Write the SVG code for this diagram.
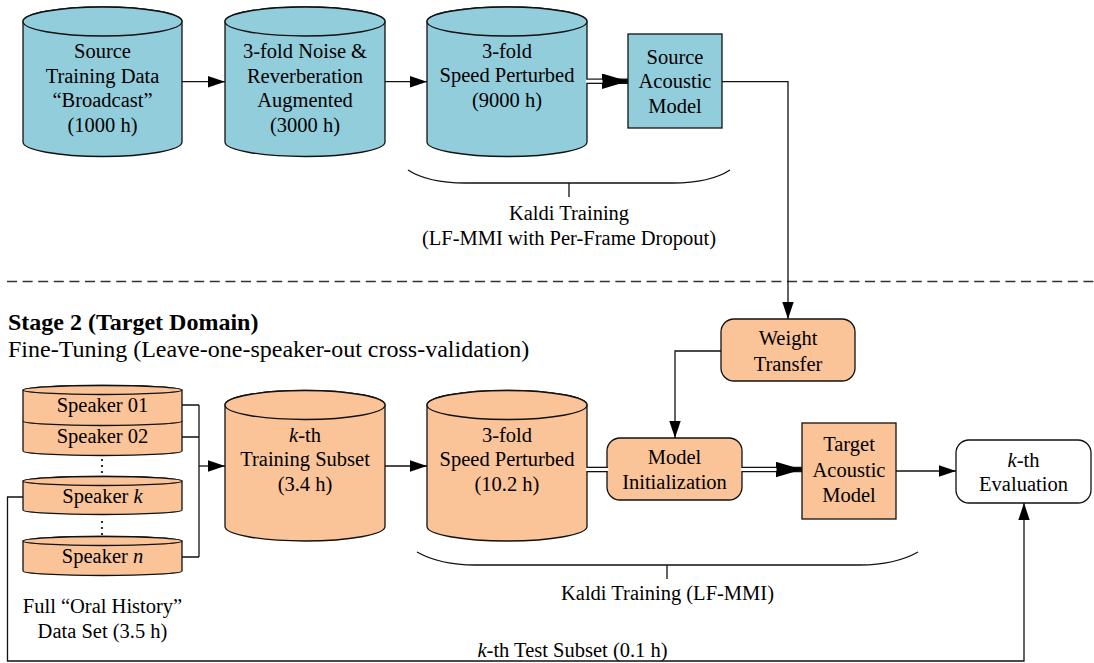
<svg xmlns="http://www.w3.org/2000/svg" width="1094" height="663" viewBox="0 0 1094 663">
  <style>
    text { font-family: "Liberation Serif", "Times New Roman", serif; font-size: 20.5px; fill: #000; }
    .c { text-anchor: middle; }
    .it { font-style: italic; }
    .head { font-size: 24px; font-weight: bold; }
    .sub { font-size: 24px; }
    .blue { fill: #92CDDC; stroke: #111; stroke-width: 1.3; }
    .orange { fill: #FAC398; stroke: #111; stroke-width: 1.3; }
    .white { fill: #fff; stroke: #111; stroke-width: 1.3; }
    .ln { fill: none; stroke: #111; stroke-width: 1.3; }
    .dbl { fill: none; stroke: #111; stroke-width: 5.6; }
    .dblw { fill: none; stroke: #fff; stroke-width: 3; }
    .sep { fill: none; stroke: #333; stroke-width: 1.5; stroke-dasharray: 10 5.6; }
  </style>
  <defs>
    <marker id="arr" markerUnits="userSpaceOnUse" markerWidth="17" markerHeight="12" refX="17" refY="5.7" orient="auto">
      <path d="M0,0 L17,5.7 L0,11.4 Z" fill="#000"/>
    </marker>
    <marker id="arrBig" markerUnits="userSpaceOnUse" markerWidth="26" markerHeight="16" refX="26" refY="7.7" orient="auto">
      <path d="M0,0 L26,7.7 L0,15.4 Z" fill="#000"/>
    </marker>
  </defs>

  <!-- Stage 1: source domain -->
  <g id="src-data">
    <path class="blue" d="M23,21.5 V142 A79.5,14.5 0 0 0 182,142 V21.5 A79.5,14.5 0 0 0 23,21.5 Z"/>
    <ellipse class="blue" cx="102.5" cy="21.5" rx="79.5" ry="14.5"/>
    <text class="c" x="102.5" y="58">Source</text>
    <text class="c" x="102.5" y="82.5">Training Data</text>
    <text class="c" x="102.5" y="107">“Broadcast”</text>
    <text class="c" x="102.5" y="131.5">(1000 h)</text>
  </g>
  <g id="noise-aug">
    <path class="blue" d="M225,21.5 V142 A80,14.5 0 0 0 385,142 V21.5 A80,14.5 0 0 0 225,21.5 Z"/>
    <ellipse class="blue" cx="305" cy="21.5" rx="80" ry="14.5"/>
    <text class="c" x="305" y="58">3-fold Noise &amp;</text>
    <text class="c" x="305" y="82.5">Reverberation</text>
    <text class="c" x="305" y="107">Augmented</text>
    <text class="c" x="305" y="131.5">(3000 h)</text>
  </g>
  <g id="speed-src">
    <path class="blue" d="M427,21.5 V142 A80,14.5 0 0 0 587,142 V21.5 A80,14.5 0 0 0 427,21.5 Z"/>
    <ellipse class="blue" cx="507" cy="21.5" rx="80" ry="14.5"/>
    <text class="c" x="507" y="57.5">3-fold</text>
    <text class="c" x="507" y="82">Speed Perturbed</text>
    <text class="c" x="507" y="106.5">(9000 h)</text>
  </g>
  <g id="src-model">
    <rect class="blue" x="628" y="34" width="94" height="94"/>
    <text class="c" x="675" y="63.5">Source</text>
    <text class="c" x="675" y="88">Acoustic</text>
    <text class="c" x="675" y="112.5">Model</text>
  </g>
  <g id="kaldi-src">
    <path class="ln" d="M408,170 Q428,183 465,183 H673 Q710,183 730,170"/>
    <path class="ln" d="M569,183 V197"/>
    <text class="c" x="569" y="220">Kaldi Training</text>
    <text class="c" x="569" y="244.5">(LF-MMI with Per-Frame Dropout)</text>
  </g>

  <!-- stage divider -->
  <path class="sep" d="M7,281.5 H1094"/>

  <!-- Stage 2: target domain -->
  <g id="stage2-title">
    <text class="head" x="8" y="330">Stage 2 (Target Domain)</text>
    <text class="sub" x="8" y="357">Fine-Tuning (Leave-one-speaker-out cross-validation)</text>
  </g>
  <g id="weight-transfer">
    <rect class="orange" x="721" y="319" width="134" height="62" rx="13"/>
    <text class="c" x="788" y="345">Weight</text>
    <text class="c" x="788" y="370.5">Transfer</text>
  </g>
  <g id="speakers">
    <path class="orange" d="M23,421 V451 A79.5,4.5 0 0 0 182,451 V421 A79.5,4.5 0 0 0 23,421 Z"/>
    <path class="orange" d="M23,390 V421 A79.5,4.5 0 0 0 182,421 V390 A79.5,4.5 0 0 0 23,390 Z"/>
    <ellipse class="orange" cx="102.5" cy="390" rx="79.5" ry="4.5"/>
    <text class="c" x="102.5" y="412">Speaker 01</text>
    <text class="c" x="102.5" y="443">Speaker 02</text>
    <circle cx="102" cy="460" r="1.1"/><circle cx="102" cy="466" r="1.1"/><circle cx="102" cy="472" r="1.1"/>
    <path class="orange" d="M23,481 V510 A79.5,4.5 0 0 0 182,510 V481 A79.5,4.5 0 0 0 23,481 Z"/>
    <ellipse class="orange" cx="102.5" cy="481" rx="79.5" ry="4.5"/>
    <text class="c" x="102.5" y="503">Speaker <tspan class="it">k</tspan></text>
    <circle cx="102" cy="522" r="1.1"/><circle cx="102" cy="528" r="1.1"/><circle cx="102" cy="534" r="1.1"/>
    <path class="orange" d="M23,541 V571 A79.5,4.5 0 0 0 182,571 V541 A79.5,4.5 0 0 0 23,541 Z"/>
    <ellipse class="orange" cx="102.5" cy="541" rx="79.5" ry="4.5"/>
    <text class="c" x="102.5" y="563">Speaker <tspan class="it">n</tspan></text>
    <text class="c" x="102.5" y="613">Full “Oral History”</text>
    <text class="c" x="102.5" y="638">Data Set (3.5 h)</text>
  </g>
  <g id="train-subset">
    <path class="orange" d="M225,405 V526.5 A80,14.5 0 0 0 385,526.5 V405 A80,14.5 0 0 0 225,405 Z"/>
    <ellipse class="orange" cx="305" cy="405" rx="80" ry="14.5"/>
    <text class="c" x="305" y="441.5"><tspan class="it">k</tspan>-th</text>
    <text class="c" x="305" y="466">Training Subset</text>
    <text class="c" x="305" y="490.5">(3.4 h)</text>
  </g>
  <g id="speed-tgt">
    <path class="orange" d="M427,405 V526.5 A80,14.5 0 0 0 587,526.5 V405 A80,14.5 0 0 0 427,405 Z"/>
    <ellipse class="orange" cx="507" cy="405" rx="80" ry="14.5"/>
    <text class="c" x="507" y="441.5">3-fold</text>
    <text class="c" x="507" y="466">Speed Perturbed</text>
    <text class="c" x="507" y="490.5">(10.2 h)</text>
  </g>
  <g id="model-init">
    <rect class="orange" x="607" y="438" width="135" height="62" rx="13"/>
    <text class="c" x="674.5" y="464">Model</text>
    <text class="c" x="674.5" y="489">Initialization</text>
  </g>
  <g id="tgt-model">
    <rect class="orange" x="802" y="423" width="94" height="96"/>
    <text class="c" x="849" y="451">Target</text>
    <text class="c" x="849" y="476.5">Acoustic</text>
    <text class="c" x="849" y="502">Model</text>
  </g>
  <g id="evaluation">
    <rect class="white" x="956" y="440" width="135" height="63" rx="13"/>
    <text class="c" x="1023.5" y="466.5"><tspan class="it">k</tspan>-th</text>
    <text class="c" x="1023.5" y="491">Evaluation</text>
  </g>
  <g id="kaldi-tgt">
    <path class="ln" d="M417,552 Q440,565 475,565 H860 Q895,565 918,552"/>
    <path class="ln" d="M667,565 V579"/>
    <text class="c" x="667.5" y="600">Kaldi Training (LF-MMI)</text>
  </g>

  <!-- connectors -->
  <g id="connectors">
    <path class="ln" d="M182,81.7 H225" marker-end="url(#arr)"/>
    <path class="ln" d="M385,81.7 H427" marker-end="url(#arr)"/>
    <path class="dbl" d="M587,81.2 H628" marker-end="url(#arrBig)"/>
    <path class="dblw" d="M586,81.2 H602.5"/>
    <path class="ln" d="M722,81.7 H788 V319" marker-end="url(#arr)"/>
    <path class="ln" d="M721,351 H675 V438" marker-end="url(#arr)"/>
    <path class="ln" d="M182,405 H199 M182,437 H199 M182,557 H199 M199,405 V557"/>
    <path class="ln" d="M199,466 H225" marker-end="url(#arr)"/>
    <path class="ln" d="M385,466 H427" marker-end="url(#arr)"/>
    <path class="dbl" d="M587,469.5 H607.5"/>
    <path class="dblw" d="M586,469.5 H608.5"/>
    <path class="dbl" d="M742,469.5 H802" marker-end="url(#arrBig)"/>
    <path class="dblw" d="M741,469.5 H776.5"/>
    <path class="ln" d="M896,471 H956" marker-end="url(#arr)"/>
    <path class="ln" d="M23,497 H7.5 V661 H1024 V503" marker-end="url(#arr)"/>
    <text class="c" x="572.5" y="657"><tspan class="it">k</tspan>-th Test Subset (0.1 h)</text>
  </g>
</svg>
